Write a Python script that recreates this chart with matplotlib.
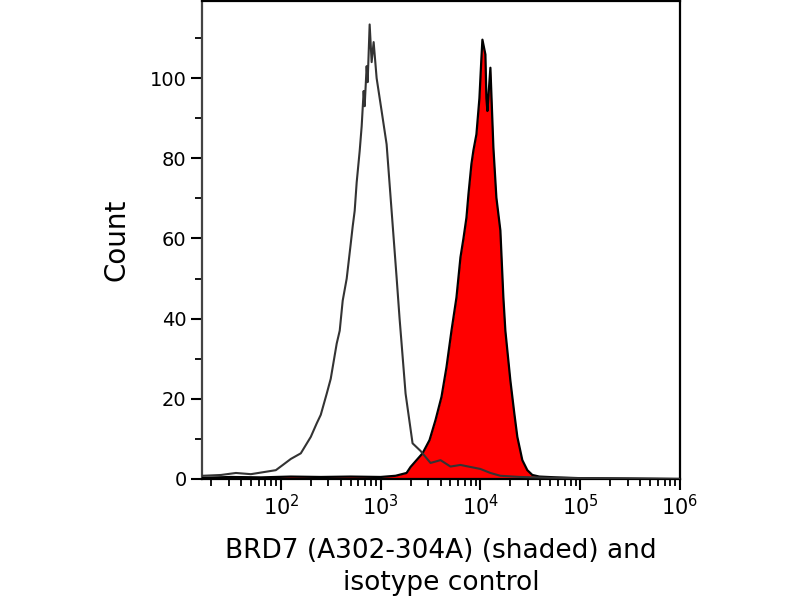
import numpy as np
import matplotlib
matplotlib.use("Agg")
import matplotlib.pyplot as plt
from matplotlib.ticker import LogLocator, MultipleLocator

# Isotype control (open, grey outline): log10 intensity vs count
iso_log = [1.22, 1.40, 1.55, 1.70, 1.85, 1.95, 2.02, 2.10, 2.20, 2.30, 2.36, 2.40,
           2.46, 2.50, 2.56, 2.59, 2.62, 2.66, 2.70, 2.72, 2.74, 2.76, 2.79, 2.81,
           2.83, 2.84, 2.86, 2.87, 2.89, 2.91, 2.93, 2.96, 3.01, 3.06, 3.11, 3.16, 3.19,
           3.21, 3.25, 3.32, 3.40, 3.50, 3.60, 3.70, 3.80, 3.90, 4.00, 4.10, 4.20,
           4.40, 4.70, 5.00, 5.50, 6.00]
iso_cnt = [0.8, 1.0, 1.5, 1.2, 1.8, 2.2, 3.5, 5.0, 6.4, 10.5, 13.9, 16.0,
           21.3, 25.0, 33.8, 37.0, 44.5, 50.0, 58.6, 63.0, 66.9, 74.0, 81.8, 88.0,
           96.8, 93.0, 103.0, 99.0, 113.4, 104.0, 109.0, 100.0, 91.8, 83.5, 66.9, 50.3, 40.0,
           33.8, 21.3, 8.9, 7.0, 4.0, 4.7, 3.1, 3.5, 3.0, 2.5, 1.5, 0.8,
           0.5, 0.3, 0.2, 0.1, 0.0]

# BRD7 (A302-304A), shaded red: log10 intensity vs count
brd_log = [1.22, 1.50, 1.80, 2.10, 2.40, 2.70, 3.00, 3.15, 3.26, 3.30, 3.36, 3.42,
           3.49, 3.55, 3.61, 3.66, 3.71, 3.76, 3.80, 3.83, 3.86, 3.88, 3.91, 3.93,
           3.96, 3.98, 3.99, 4.01, 4.02, 4.05, 4.06, 4.07, 4.10, 4.13, 4.16, 4.20,
           4.23, 4.25, 4.30, 4.34, 4.37, 4.42, 4.47, 4.52, 4.59, 4.76, 5.00, 5.50, 6.00]
brd_cnt = [0.3, 0.5, 0.4, 0.6, 0.5, 0.6, 0.5, 0.8, 1.5, 3.0, 4.7, 6.4,
           9.7, 14.7, 20.5, 27.9, 37.0, 45.3, 55.3, 60.0, 65.2, 71.0, 78.6, 82.0,
           86.0, 92.0, 95.0, 105.0, 109.6, 105.9, 95.0, 91.8, 102.6, 82.7, 70.2, 62.0,
           45.3, 37.0, 24.6, 16.3, 10.5, 4.7, 2.2, 1.0, 0.6, 0.4, 0.2, 0.1, 0.0]

fig = plt.figure(figsize=(8, 6), dpi=100)
ax = fig.add_axes([0.2525, 0.2017, 0.5975, 0.7963])

bx = 10 ** np.array(brd_log)
ix = 10 ** np.array(iso_log)
ax.fill_between(bx, brd_cnt, 0, color="#ff0000", lw=0, zorder=2)
ax.plot(bx, brd_cnt, color="black", lw=1.6, zorder=3)
ax.plot(ix, iso_cnt, color="#333333", lw=1.5, zorder=4)

ax.set_xscale("log")
ax.set_xlim(10 ** 1.21, 1e6)
ax.set_ylim(0, 119.2)
ax.xaxis.set_minor_locator(LogLocator(base=10, subs=np.arange(2, 10), numticks=20))
ax.set_xticks([1e2, 1e3, 1e4, 1e5, 1e6])
ax.yaxis.set_major_locator(MultipleLocator(20))
ax.yaxis.set_minor_locator(MultipleLocator(10))

ax.tick_params(axis="both", which="major", direction="out", length=8, width=1.5,
               colors="black")
ax.tick_params(axis="y", which="major", labelsize=14, pad=3)
ax.tick_params(axis="x", which="major", labelsize=15, pad=3)
ax.tick_params(axis="both", which="minor", direction="out", length=5, width=1.3)

for s in ["top", "right", "bottom"]:
    ax.spines[s].set_linewidth(1.6)
    ax.spines[s].set_color("black")
ax.spines["left"].set_linewidth(1.6)
ax.spines["left"].set_color("#444444")

ax.set_ylabel("Count", fontsize=20, labelpad=14)
ax.set_xlabel("BRD7 (A302-304A) (shaded) and\nisotype control", fontsize=19,
              labelpad=13, linespacing=1.3)

fig.savefig("out.png", dpi=100)
